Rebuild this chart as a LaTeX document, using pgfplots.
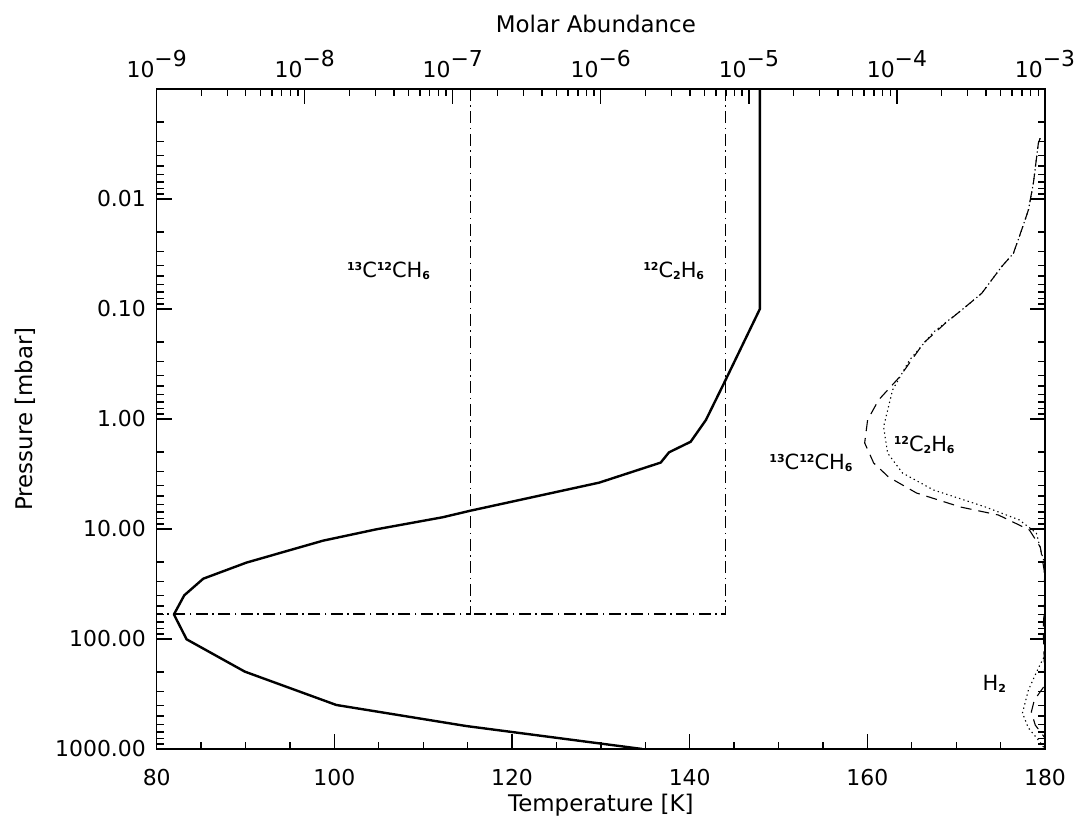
\documentclass[border=0pt]{standalone}
\usepackage{fontspec}
\setmainfont{DejaVu Sans}
\usepackage{pgfplots}
\pgfplotsset{compat=1.18}
\newcommand{\iso}[1]{\raisebox{7.5bp}{\fontsize{11}{11}\selectfont\bfseries #1}}
\newcommand{\sbs}[1]{\raisebox{-1.7bp}{\fontsize{11}{11}\selectfont\bfseries #1}}
\pgfplotstableread{
T p
147.90 0.001
147.90 0.1
144.04 0.442
141.83 1.02
140.11 1.61
137.67 2.01
136.74 2.49
129.81 3.79
115.31 6.82
112.17 7.83
104.72 10.07
98.72 12.77
90.11 20.2
85.24 28.3
83.10 40.1
81.94 59.8
83.37 100.7
89.92 198
100.22 398
114.83 618
134.67 1000
}\temptab
\pgfplotstableread{
T p
179.45 0.0028
179.25 0.00312
178.69 0.00719
178.13 0.0126
177.37 0.0191
176.44 0.0312
175.12 0.0412
172.88 0.0720
170.63 0.102
168.76 0.135
166.33 0.204
163.63 0.415
161.27 0.671
160.03 1.02
159.70 1.65
160.71 2.51
162.39 3.37
165.54 4.71
170.48 6.31
174.75 7.46
178.24 10.2
179.47 14.6
179.9 23.6
180 40
179.8 80
180 262
178.8 359
178.46 461
178.9 605
180 794
180 1000
}\cdashed
\pgfplotstableread{
T p
179.45 0.0028
179.25 0.00312
178.69 0.00719
178.13 0.0126
177.37 0.0191
176.44 0.0312
175.12 0.0412
172.88 0.0720
170.63 0.102
167.45 0.162
164.75 0.291
162.84 0.545
161.83 1.18
162.28 2.04
163.96 3.10
167.45 4.42
173.3 6.31
177.12 8.28
179.03 10.9
179.6 16.5
180 21.2
180 140
179.25 184
178.13 291
177.46 471
178.13 644
179.25 828
180 1000
}\cdotted
\pgfplotstableread{
a p
1.315e-7 0.001
1.315e-7 59.3
1e-9 59.3
}\abthirteen
\pgfplotstableread{
a p
6.97e-6 0.001
6.97e-6 59.3
1.315e-7 59.3
}\abtwelve
\begin{document}
\fontsize{23}{27}\selectfont
\begin{tikzpicture}
\pgfplotsset{
  every axis/.append style={
    scale only axis, width=888.3bp, height=660bp,
    major tick length=15bp, minor tick length=7bp,
    every tick/.style={line width=1.3bp, black},
    axis line style={line width=1.6bp},
    ticklabel style={font=\fontsize{22}{26}\selectfont},
  },
}
\begin{axis}[name=main,
  xmin=80, xmax=180,
  ymode=log, ymin=0.001, ymax=1000, y dir=reverse,
  xtick={80,100,120,140,160,180},
  xticklabels={80,100,120,140,160,180},
  minor xtick={85,90,95,105,110,115,125,130,135,145,150,155,165,170,175},
  xtick pos=left,
  ytick pos=both,
  ytick={0.01,0.1,1,10,100,1000},
  yticklabels={0.01,0.10,1.00,10.00,100.00,1000.00},
  minor ytick={0.002,0.003,0.004,0.005,0.006,0.007,0.008,0.009,
    0.02,0.03,0.04,0.05,0.06,0.07,0.08,0.09,
    0.2,0.3,0.4,0.5,0.6,0.7,0.8,0.9,
    2,3,4,5,6,7,8,9,20,30,40,50,60,70,80,90,
    200,300,400,500,600,700,800,900},
  xticklabel style={anchor=center, yshift=-28.5bp},
  yticklabel style={anchor=east, xshift=-3bp},
]
\addplot[black, line width=2.4bp, line join=round] table[x=T,y=p] {\temptab};
\addplot[black, line width=1.1bp, dash pattern=on 11bp off 7bp] table[x=T,y=p] {\cdashed};
\addplot[black, line width=1.1bp, dash pattern=on 1.3bp off 3.2bp] table[x=T,y=p] {\cdotted};
\node[font=\fontsize{21}{25}\selectfont] at (axis cs:106.1,0.0451) {\iso{13}C\iso{12}CH\sbs{6}};
\node[font=\fontsize{21}{25}\selectfont] at (axis cs:138.2,0.0451) {\iso{12}C\sbs{2}H\sbs{6}};
\node[font=\fontsize{21}{25}\selectfont] at (axis cs:153.66,2.51) {\iso{13}C\iso{12}CH\sbs{6}};
\node[font=\fontsize{21}{25}\selectfont] at (axis cs:166.4,1.72) {\iso{12}C\sbs{2}H\sbs{6}};
\node[font=\fontsize{21}{25}\selectfont] at (axis cs:174.3,256) {H\sbs{2}};
\end{axis}
\begin{axis}[
  xmode=log, xmin=1e-9, xmax=1e-3,
  ymode=log, ymin=0.001, ymax=1000, y dir=reverse,
  axis x line*=top, hide y axis,
  xtick={1e-9,1e-8,1e-7,1e-6,1e-5,1e-4,1e-3},
  xticklabels={10\raisebox{0.52em}{−9},10\raisebox{0.52em}{−8},10\raisebox{0.52em}{−7},10\raisebox{0.52em}{−6},10\raisebox{0.52em}{−5},10\raisebox{0.52em}{−4},10\raisebox{0.52em}{−3}},
  minor xtick={2e-9,3e-9,4e-9,5e-9,6e-9,7e-9,8e-9,9e-9,
    2e-8,3e-8,4e-8,5e-8,6e-8,7e-8,8e-8,9e-8,
    2e-7,3e-7,4e-7,5e-7,6e-7,7e-7,8e-7,9e-7,
    2e-6,3e-6,4e-6,5e-6,6e-6,7e-6,8e-6,9e-6,
    2e-5,3e-5,4e-5,5e-5,6e-5,7e-5,8e-5,9e-5,
    2e-4,3e-4,4e-4,5e-4,6e-4,7e-4,8e-4,9e-4},
  xticklabel style={anchor=base, yshift=11bp},
]
\addplot[black, line width=1.1bp, dash pattern=on 12bp off 4.5bp on 1.5bp off 4.5bp] table[x=a,y=p] {\abthirteen};
\addplot[black, line width=1.1bp, dash pattern=on 12bp off 4.5bp on 1.5bp off 4.5bp] table[x=a,y=p] {\abtwelve};
\end{axis}
\node[rotate=90] at ([xshift=-130.9bp]main.west) {Pressure [mbar]};
\node at ([yshift=-56bp]main.south) {Temperature [K]};
\node at ([xshift=-5bp,yshift=65.5bp]main.north) {Molar Abundance};
\pgfresetboundingbox
\path[use as bounding box] ([xshift=-156.7bp,yshift=-69bp]main.south west) rectangle ([xshift=31bp,yshift=89bp]main.north east);
\end{tikzpicture}
\end{document}
